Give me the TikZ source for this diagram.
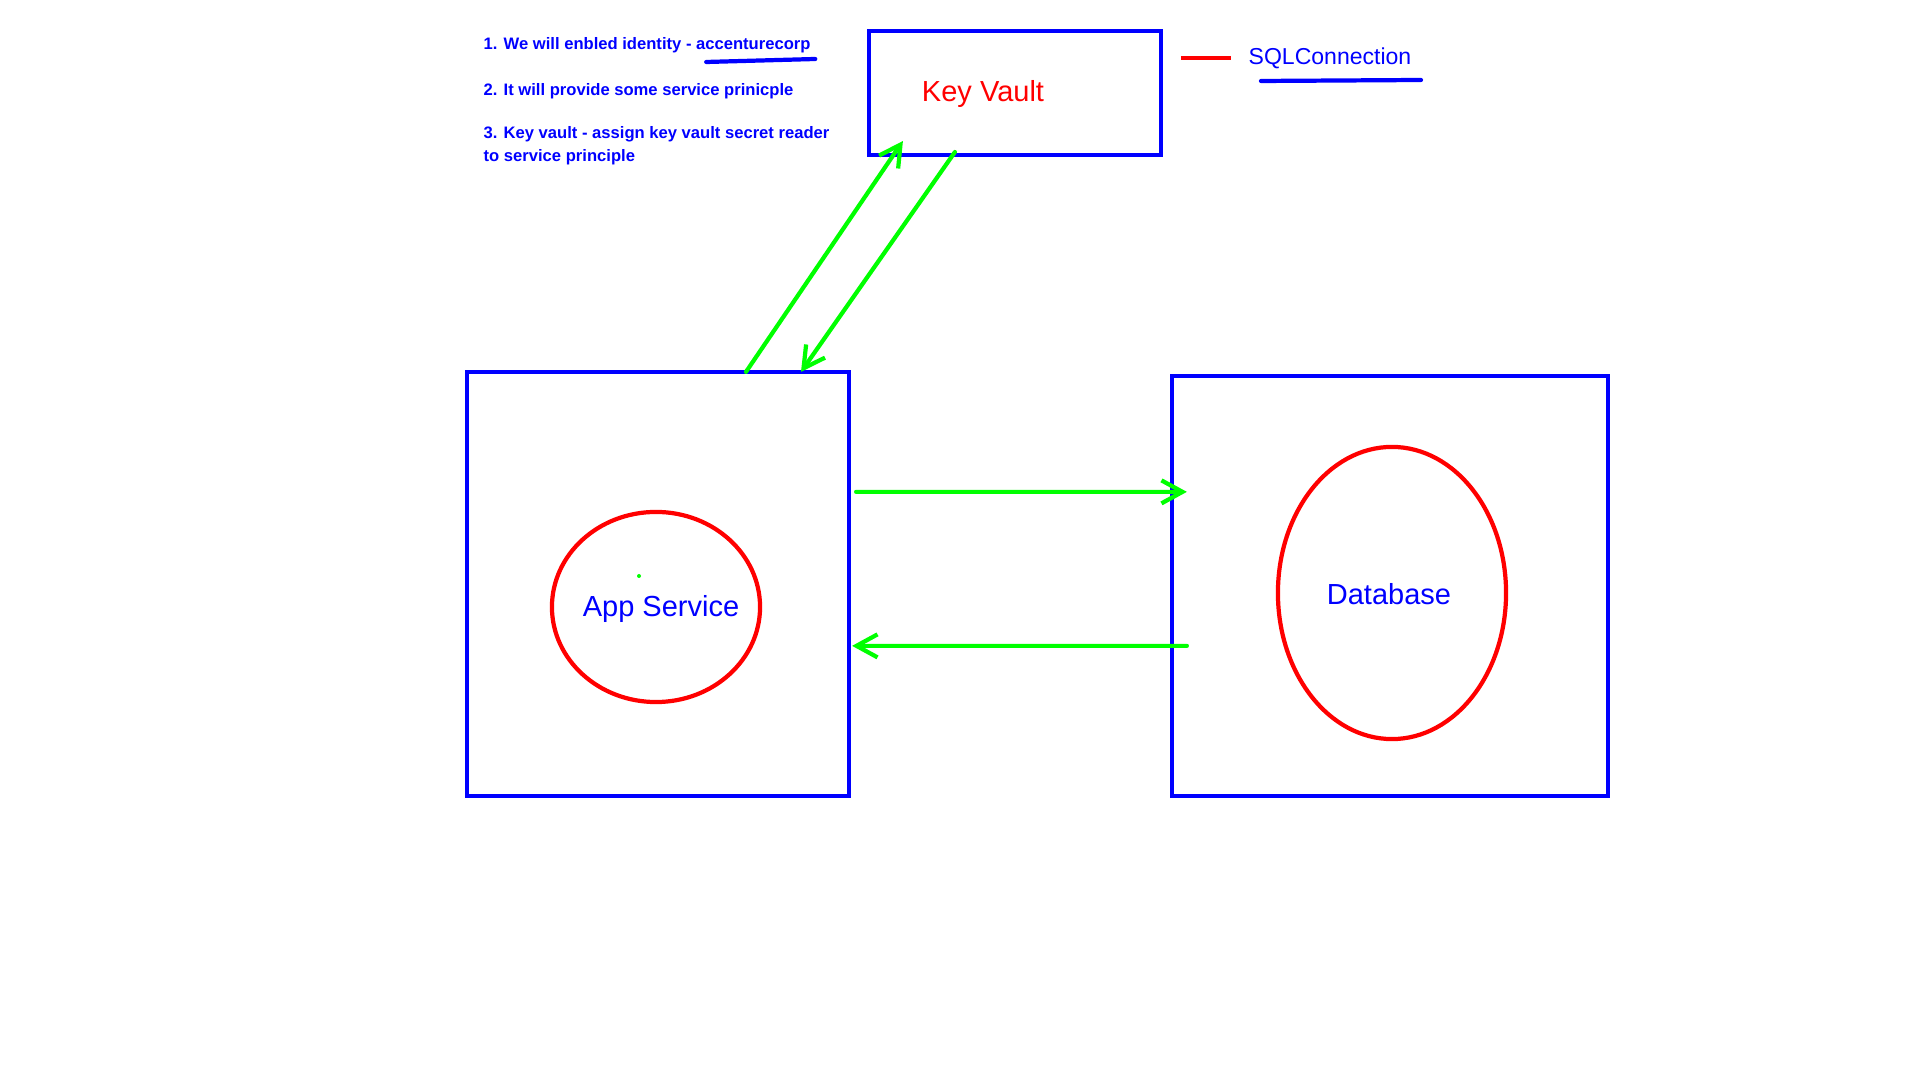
\documentclass[tikz,border=0pt]{standalone}
\usepackage{fontspec}
\setmainfont{Liberation Sans}
\usetikzlibrary{arrows.meta,shapes.geometric}
\definecolor{paintblue}{RGB}{0,0,255}
\definecolor{paintred}{RGB}{255,0,0}
\definecolor{paintgreen}{RGB}{0,255,0}
\tikzset{
  box/.style={draw=paintblue, line width=1.2pt, inner sep=0pt, outer sep=0pt},
  oval/.style={draw=paintred, ellipse, line width=1.2pt, inner sep=0pt, outer sep=0pt},
  flow/.style={draw=paintgreen, line width=1.2pt, line cap=round,
    -{Straight Barb[length=2.1mm,width=2.3mm,line width=1.2pt]}},
  note/.style={anchor=base west, text=paintblue, inner sep=0pt,
    font=\fontsize{4.72}{6}\selectfont\bfseries},
  title/.style={anchor=base, inner sep=0pt, font=\fontsize{8.25}{10}\selectfont},
  penline/.style={paintblue, line width=1.2pt, line cap=round}
}
\begin{document}
\begin{tikzpicture}[x=0.01cm, y=-0.01cm]
\useasboundingbox (0,0) rectangle (1920,1080);
% notes
\node[note] (note1) at (483,50) {1. We will enbled identity - accenturecorp};
\node[note] (note2) at (483,96) {2. It will provide some service prinicple};
\node[note] (note3) at (483,139) {3. Key vault - assign key vault secret reader};
\node[note] (note4) at (483,162) {to service principle};
\draw[penline] ([shift={(-105,12)}]note1.base east) -- ([shift={(4,9)}]note1.base east);
% key vault
\node[box, minimum width=2.92cm, minimum height=1.24cm] (kvbox) at (1015,93) {};
\node[title, text=paintred] (kvtext) at (983,102) {Key Vault};
\node[title, text=paintblue, font=\fontsize{6.55}{8}\selectfont] (sql) at (1330,65) {SQLConnection};
\draw[paintred, line width=1.2pt] ([shift={(-67,-7)}]sql.base west) -- ([shift={(-17,-7)}]sql.base west);
\draw[penline] ([shift={(13,16)}]sql.base west) -- ([shift={(173,15)}]sql.base west);
% app service
\node[box, minimum width=3.82cm, minimum height=4.24cm] (appbox) at (658,584) {};
\node[oval, minimum width=2.08cm, minimum height=1.90cm] (appoval) at (656,607) {};
\node[title, text=paintblue] (apptext) at (661,617) {App Service};
\fill[paintgreen] (639,576) circle[radius=2];
% database
\node[box, minimum width=4.36cm, minimum height=4.20cm] (dbbox) at (1390,586) {};
\node[oval, minimum width=2.28cm, minimum height=2.92cm] (dboval) at (1392,593) {};
\node[title, text=paintblue] (dbtext) at (1389,605) {Database};
% arrows
\draw[flow] ([shift={(88,0)}]appbox.north) -- ([shift={(34,-14)}]kvbox.south west);
\draw[flow] ([shift={(86,-3)}]kvbox.south west) -- ([shift={(143,0)}]appbox.north);
\draw[flow] ([shift={(7,120)}]appbox.north east) -- ([shift={(15,116)}]dbbox.north west);
\draw[flow] ([shift={(15,270)}]dbbox.north west) -- ([shift={(3,274)}]appbox.north east);
\end{tikzpicture}
\end{document}
